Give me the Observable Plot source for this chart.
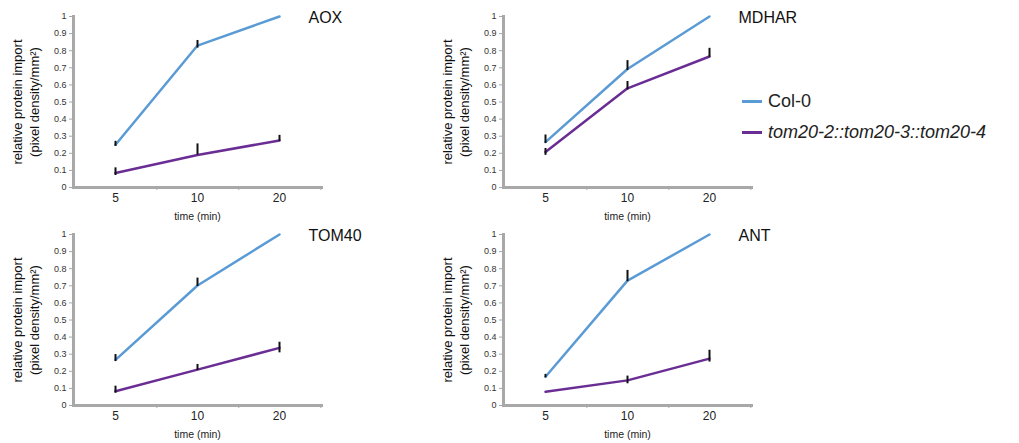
<!DOCTYPE html>
<html>
<head>
<meta charset="utf-8">
<script src="https://cdn.jsdelivr.net/npm/d3@7"></script>
<script src="https://cdn.jsdelivr.net/npm/@observablehq/plot@0.6"></script>
<style>
  body { margin: 0; background: #fff; font-family: "Liberation Sans", Arial, sans-serif; }
  #root { position: relative; width: 1019px; height: 443px; overflow: hidden; }
  .panel { position: absolute; }
  .legend { position: absolute; left: 742px; top: 90px; font-size: 18px; color: #222; white-space: nowrap; }
  .legend .row { display: flex; align-items: center; height: 22px; margin-bottom: 9px; }
  .legend .sw { width: 20px; height: 3px; margin-right: 6px; }
</style>
</head>
<body>
<div id="root"></div>
<script>
const times = ["5", "10", "20"];
const yTicks = [0, 0.1, 0.2, 0.3, 0.4, 0.5, 0.6, 0.7, 0.8, 0.9, 1];
const seriesNames = ["Col-0", "tom20-2::tom20-3::tom20-4"];
const seriesColors = ["#5b9bd5", "#6a2d94"];

const aoxCol = [0.25, 0.83, 1.0];
const aoxColErr = [[0.24, 0.27], [0.815, 0.86], null];
const aoxTom = [0.085, 0.19, 0.275];
const aoxTomErr = [[0.07, 0.115], [0.19, 0.255], [0.27, 0.305]];

const mdharCol = [0.265, 0.693, 1.0];
const mdharColErr = [[0.258, 0.307], [0.684, 0.742], null];
const mdharTom = [0.208, 0.58, 0.766];
const mdharTomErr = [[0.188, 0.228], [0.57, 0.62], [0.762, 0.814]];

const tom40Col = [0.267, 0.702, 1.0];
const tom40ColErr = [[0.257, 0.298], [0.696, 0.745], null];
const tom40Tom = [0.083, 0.21, 0.337];
const tom40TomErr = [[0.072, 0.113], [0.205, 0.24], [0.308, 0.37]];

const antCol = [0.168, 0.73, 1.0];
const antColErr = [[0.162, 0.182], [0.724, 0.79], null];
const antTom = [0.08, 0.147, 0.274];
const antTomErr = [null, [0.127, 0.172], [0.254, 0.323]];

const panels = [
  {title: "AOX", col: aoxCol, colErr: aoxColErr, tom: aoxTom, tomErr: aoxTomErr, left: 0, top: 0},
  {title: "MDHAR", col: mdharCol, colErr: mdharColErr, tom: mdharTom, tomErr: mdharTomErr, left: 430, top: 0},
  {title: "TOM40", col: tom40Col, colErr: tom40ColErr, tom: tom40Tom, tomErr: tom40TomErr, left: 0, top: 218},
  {title: "ANT", col: antCol, colErr: antColErr, tom: antTom, tomErr: antTomErr, left: 430, top: 218}
];

const W = 420, H = 220, ML = 73, MR = 99, MT = 16, MB = 33;
const step = (W - ML - MR) / times.length;
const axisGray = "#a8a8a8";
const font = "Liberation Sans, Arial, sans-serif";

const root = document.getElementById("root");

for (const p of panels) {
  const lines = [];
  const errs = [];
  [[p.col, p.colErr], [p.tom, p.tomErr]].forEach(([vals, err], si) => {
    times.forEach((t, i) => {
      lines.push({series: seriesNames[si], t, v: vals[i]});
      if (err[i]) errs.push({t, lo: err[i][0], hi: err[i][1]});
    });
  });

  const chart = Plot.plot({
    width: W, height: H,
    marginLeft: ML, marginRight: MR, marginTop: MT, marginBottom: MB,
    style: {fontFamily: font, background: "transparent", overflow: "visible"},
    x: {type: "point", domain: times, padding: 0.5},
    y: {domain: [0, 1]},
    color: {domain: seriesNames, range: seriesColors},
    marks: [
      Plot.axisY({ticks: yTicks, tickFormat: d => String(+d.toFixed(1)), tickSize: 4, tickPadding: 3,
        stroke: axisGray, fill: "#333", fontSize: 9, label: null}),
      Plot.axisX({tickSize: 0, tickPadding: 6, fill: "#222", fontSize: 12, label: null}),
      Plot.axisX({tickSize: 3, text: null, stroke: axisGray, dx: step / 2, label: null}),
      Plot.frame({anchor: "left", stroke: axisGray, strokeWidth: 3}),
      Plot.frame({anchor: "bottom", stroke: axisGray, strokeWidth: 3}),
      Plot.line(lines, {x: "t", y: "v", z: "series", stroke: "series", strokeWidth: 2.5}),
      Plot.ruleX(errs, {x: "t", y1: "lo", y2: "hi", stroke: "#111", strokeWidth: 2}),
      Plot.text([p.title], {frameAnchor: "top-right", textAnchor: "start", lineAnchor: "middle",
        dx: -13, dy: 1, fontSize: 16, fill: "#111"}),
      Plot.text(["time (min)"], {frameAnchor: "bottom", lineAnchor: "middle", dy: 29, fontSize: 10.5, fill: "#222"}),
      Plot.text(["relative protein import\n(pixel density/mm²)"], {frameAnchor: "left", rotate: -90,
        textAnchor: "middle", lineAnchor: "middle", lineHeight: 1.3, dx: -48, fontSize: 13, fill: "#111"})
    ]
  });
  const div = document.createElement("div");
  div.className = "panel";
  div.style.left = p.left + "px";
  div.style.top = p.top + "px";
  div.appendChild(chart);
  root.appendChild(div);
}

const legend = document.createElement("div");
legend.className = "legend";
seriesNames.forEach((name, i) => {
  const row = document.createElement("div");
  row.className = "row";
  const sw = document.createElement("span");
  sw.className = "sw";
  sw.style.background = seriesColors[i];
  const lab = document.createElement("span");
  lab.textContent = name;
  if (i === 1) lab.style.fontStyle = "italic";
  row.appendChild(sw);
  row.appendChild(lab);
  legend.appendChild(row);
});
root.appendChild(legend);
</script>
</body>
</html>
